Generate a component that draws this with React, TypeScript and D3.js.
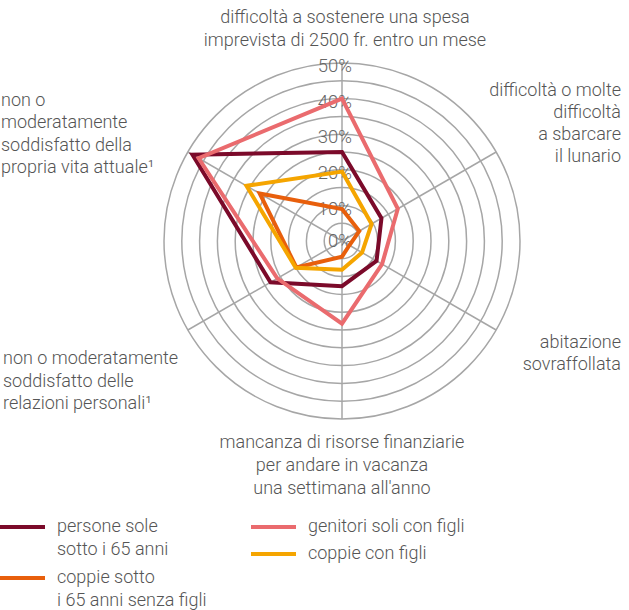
import React from "react";
import * as d3 from "d3";

const axes: string[][] = [
  ["difficoltà a sostenere una spesa", "imprevista di 2500 fr. entro un mese"],
  ["difficoltà o molte", "difficoltà", "a sbarcare", "il lunario"],
  ["abitazione", "sovraffollata"],
  ["mancanza di risorse finanziarie", "per andare in vacanza", "una settimana all'anno"],
  ["non o moderatamente", "soddisfatto delle", "relazioni personali¹"],
  ["non o", "moderatamente", "soddisfatto della", "propria vita attuale¹"],
];

const personeSole = [25, 12.8, 11.2, 12.7, 23.2, 48.5];
const genitoriSoli = [40, 18.1, 13, 23.2, 21, 46.5];
const coppieSenzaFigli = [9, 5.6, 2.4, 4.4, 14.8, 26.7];
const coppieConFigli = [19.5, 9.6, 6.5, 8.1, 15, 31];

const tickValues = [0, 10, 20, 30, 40, 50];
const ringValues = [5, 10, 15, 20, 25, 30, 35, 40, 45, 50];

const series = [
  { name: ["persone sole", "sotto i 65 anni"], values: personeSole, color: "#7b0a2a" },
  { name: ["genitori soli con figli"], values: genitoriSoli, color: "#ea6b6e" },
  { name: ["coppie sotto", "i 65 anni senza figli"], values: coppieSenzaFigli, color: "#e85f0c" },
  { name: ["coppie con figli"], values: coppieConFigli, color: "#f5a500" },
];

// label layout per axis: anchor, x, first baseline y, line spacing
const labelLayout = [
  { anchor: "middle", x: 345, y: 23, dy: 23 },
  { anchor: "end", x: 621, y: 96, dy: 22 },
  { anchor: "end", x: 621, y: 348, dy: 22 },
  { anchor: "middle", x: 342, y: 448, dy: 23 },
  { anchor: "start", x: 3, y: 364, dy: 22.5 },
  { anchor: "start", x: 1, y: 106, dy: 22.3 },
];

// legend layout
const legendLayout = [
  { idx: 0, x: 0, y: 527 },
  { idx: 2, x: 0, y: 578 },
  { idx: 1, x: 251, y: 527 },
  { idx: 3, x: 251, y: 554 },
];

export default function App() {
  const W = 629, H = 610;
  const cx = 342, cy = 241, R = 178;
  const r = d3.scaleLinear().domain([0, 50]).range([0, R]);
  const n = axes.length;
  const angle = (i: number) => (i * 2 * Math.PI) / n;
  const line = d3
    .lineRadial<number>()
    .angle((_, i) => angle(i))
    .radius((d) => r(d))
    .curve(d3.curveLinearClosed);

  const font = "Roboto, 'Open Sans', sans-serif";
  const textColor = "#555";

  return (
    <svg width={W} height={H} style={{ position: "absolute", left: 0, top: 0 }} fontFamily={font}>
      <g transform={`translate(${cx},${cy})`}>
        {ringValues.map((v) => (
          <circle key={v} r={r(v)} fill="none" stroke="#a6a6a6" strokeWidth={1.5} />
        ))}
        {axes.map((_, i) => {
          const a = angle(i);
          return (
            <line
              key={i}
              x1={0}
              y1={0}
              x2={Math.sin(a) * R}
              y2={-Math.cos(a) * R}
              stroke="#a6a6a6"
              strokeWidth={1.5}
            />
          );
        })}
        {tickValues.map((v) => (
          <text
            key={v}
            x={10}
            y={-r(v) + (v === 0 ? -1 : 2.5)}
            dy="0.36em"
            textAnchor="end"
            fontSize={18.5}
            fontWeight={300}
            fill="#666"
          >
            {v}%
          </text>
        ))}
        {series.map((s, k) => (
          <path
            key={k}
            d={line(s.values) || ""}
            fill="none"
            stroke={s.color}
            strokeWidth={4}
            strokeLinejoin="miter"
          />
        ))}
      </g>
      {axes.map((lines, i) => {
        const L = labelLayout[i];
        return (
          <text
            key={i}
            x={L.x}
            y={L.y}
            textAnchor={L.anchor as any}
            fontSize={18}
            fontWeight={300}
            fill={textColor}
          >
            {lines.map((t, j) => (
              <tspan key={j} x={L.x} dy={j === 0 ? 0 : L.dy}>
                {t}
              </tspan>
            ))}
          </text>
        );
      })}
      {legendLayout.map((L, k) => {
        const s = series[L.idx];
        return (
          <g key={k}>
            <line x1={L.x} x2={L.x + 45} y1={L.y} y2={L.y} stroke={s.color} strokeWidth={4} />
            <text x={L.x + 57} y={L.y + 5} fontSize={18} fontWeight={300} fill={textColor}>
              {s.name.map((t, j) => (
                <tspan key={j} x={L.x + 57} dy={j === 0 ? 0 : 23}>
                  {t}
                </tspan>
              ))}
            </text>
          </g>
        );
      })}
    </svg>
  );
}
